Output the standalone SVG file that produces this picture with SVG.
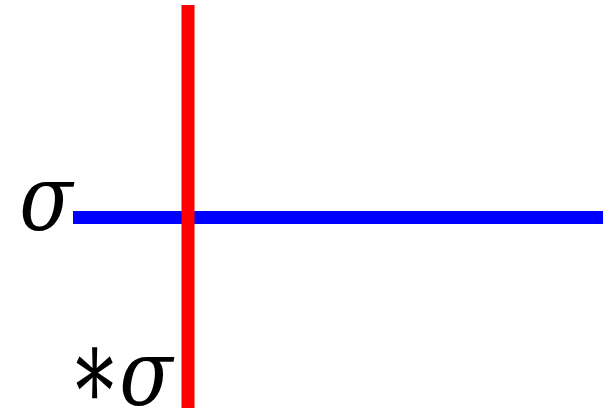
<svg xmlns="http://www.w3.org/2000/svg" width="610" height="411" viewBox="0 0 610 411">
<style>
.sig{font-family:"DejaVu Serif",serif;font-style:italic;font-size:92px;fill:#000}
.ast{font-family:"DejaVu Serif",serif;font-size:112px;fill:#000;text-anchor:middle}
</style>
<rect width="610" height="411" fill="#fff"/>
<g id="connectors">
<line x1="73" y1="217.5" x2="603" y2="217.5" stroke="#0000ff" stroke-width="13"/>
<line x1="188" y1="5" x2="188" y2="408" stroke="#ff0000" stroke-width="13"/>
</g>
<g id="sigma" transform="translate(21,230) scale(0.85,1)"><text class="sig" x="-2" y="0">σ</text></g>
<g id="star-sigma">
<text class="ast" transform="translate(94.5,408) scale(0.69,1)" x="0" y="0">∗</text>
<text class="sig" transform="translate(121,405) scale(0.85,1)" x="-2" y="0">σ</text>
</g>
</svg>
